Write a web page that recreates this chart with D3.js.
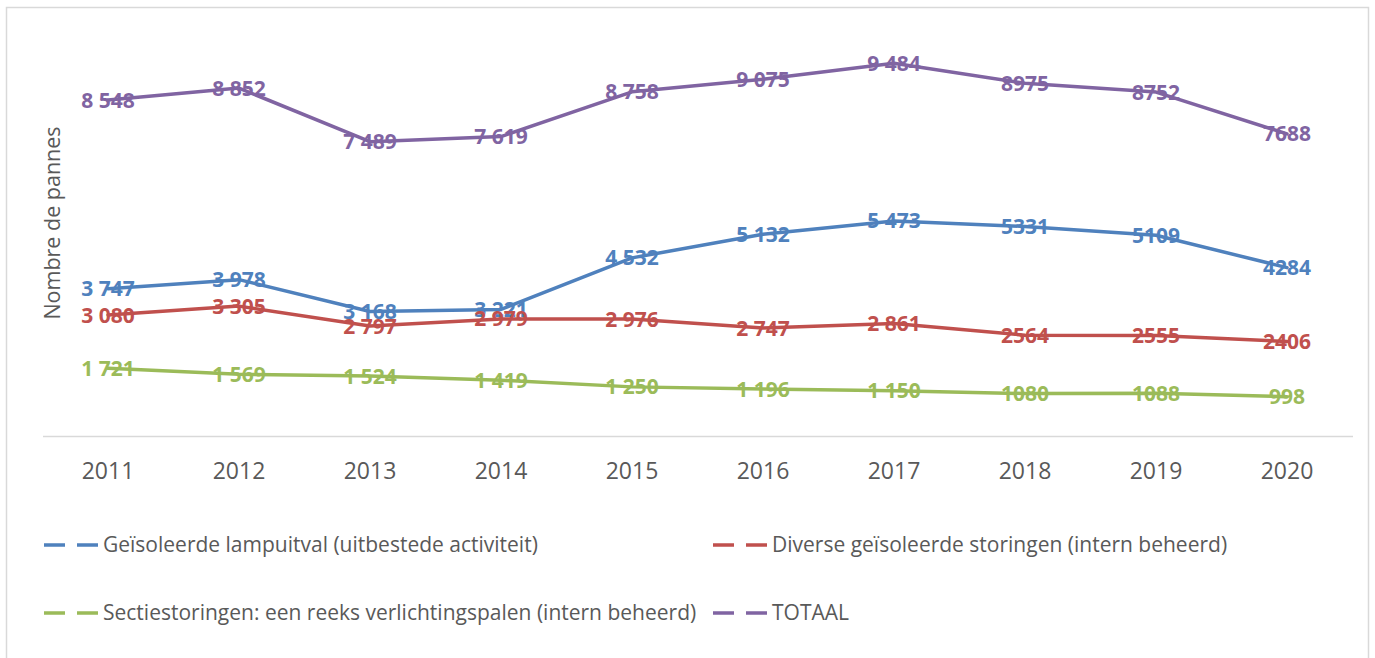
<!DOCTYPE html>
<html>
<head>
<meta charset="utf-8">
<script src="https://cdn.jsdelivr.net/npm/d3@7"></script>
<style>
  body { margin: 0; background: #fff; }
  text { font-family: "Open Sans", sans-serif; }
</style>
</head>
<body>
<div id="chartArea"></div>
<script>
const years = [2011, 2012, 2013, 2014, 2015, 2016, 2017, 2018, 2019, 2020];
const lampuitval = [3747, 3978, 3168, 3221, 4532, 5132, 5473, 5331, 5109, 4284];
const diverse = [3080, 3305, 2797, 2979, 2976, 2747, 2861, 2564, 2555, 2406];
const sectie = [1721, 1569, 1524, 1419, 1250, 1196, 1150, 1080, 1088, 998];
const totaal = [8548, 8852, 7489, 7619, 8758, 9075, 9484, 8975, 8752, 7688];
const seriesNames = [
    "Geïsoleerde lampuitval (uitbestede activiteit)",
    "Diverse geïsoleerde storingen (intern beheerd)",
    "Sectiestoringen: een reeks verlichtingspalen (intern beheerd)",
    "TOTAAL"
];
// labels up to this year carry a space as thousands separator
const lastGroupedYear = 2017;

const colors = ["#4f81bd", "#c0504d", "#9bbb59", "#8064a2"];
const w = 1375;
const h = 658;
const plot = {left: 42.5, right: 1352.5, top: 43, bottom: 436};

const svg = d3.select("#chartArea")
    .append("svg")
    .attr("width", w)
    .attr("height", h);

svg.append("rect")
    .attr("x", 6.5)
    .attr("y", 7.5)
    .attr("width", 1362)
    .attr("height", 700)
    .style("fill", "#fff")
    .style("stroke", "#d9d9d9")
    .style("stroke-width", 1.5);

const series = [lampuitval, diverse, sectie, totaal].map((vals, i) => ({
    name: seriesNames[i],
    color: colors[i],
    values: vals.map((v, j) => ({year: years[j], value: v}))
}));

const x = d3.scaleBand()
    .domain(years)
    .range([plot.left, plot.right]);

const y = d3.scaleLinear()
    .domain([0, 10000])
    .range([plot.bottom, plot.top]);

const nl = d3.formatLocale({decimal: ",", thousands: " ", grouping: [3], currency: ["", ""]});
const fmtGrouped = nl.format(",d");
const fmtLabel = d => d.year <= lastGroupedYear ? fmtGrouped(d.value) : String(d.value);

const xAxis = d3.axisBottom(x)
    .tickSize(0)
    .tickPadding(0);

const gx = svg.append("g")
    .attr("transform", `translate(0,${plot.bottom})`)
    .call(xAxis);
gx.select(".domain")
    .attr("stroke", "#d9d9d9")
    .attr("stroke-width", 1.5);
gx.selectAll("text")
    .attr("y", 35)
    .attr("dy", "0.35em")
    .attr("fill", "#595959")
    .style("font-size", "23px")
    .style("font-family", "Open Sans");

svg.append("text")
    .attr("transform", "translate(52,223) rotate(-90)")
    .attr("text-anchor", "middle")
    .attr("dy", "0.35em")
    .attr("fill", "#595959")
    .style("font-size", "21.5px")
    .text("Nombre de pannes");

const line = d3.line()
    .x(d => x(d.year) + x.bandwidth() / 2)
    .y(d => y(d.value));

svg.selectAll(".series-line")
    .data(series)
    .enter()
    .append("path")
    .attr("class", "series-line")
    .attr("d", d => line(d.values))
    .attr("fill", "none")
    .attr("stroke", d => d.color)
    .attr("stroke-width", 3.5)
    .attr("stroke-linejoin", "round")
    .attr("stroke-linecap", "round");

series.forEach(s => {
    svg.append("g")
        .selectAll("text")
        .data(s.values)
        .enter()
        .append("text")
        .attr("x", d => x(d.year) + x.bandwidth() / 2)
        .attr("y", d => y(d.value))
        .attr("dy", "0.36em")
        .attr("text-anchor", "middle")
        .attr("fill", s.color)
        .style("font-size", "21px")
        .style("font-weight", "bold")
        .text(fmtLabel);
});

// legend, 2 columns x 2 rows
const legendCols = [44, 713];
const legendRows = [545, 613];
const legend = svg.selectAll(".legend")
    .data(series)
    .enter()
    .append("g")
    .attr("class", "legend")
    .attr("transform", (d, i) => `translate(${legendCols[i % 2]},${legendRows[Math.floor(i / 2)]})`);

legend.append("line")
    .attr("x1", 0)
    .attr("x2", 55)
    .attr("y1", 0)
    .attr("y2", 0)
    .attr("stroke", d => d.color)
    .attr("stroke-width", 3.5)
    .attr("stroke-dasharray", "21 12");

legend.append("text")
    .attr("x", 59)
    .attr("dy", "0.35em")
    .attr("fill", "#595959")
    .style("font-size", "21px")
    .text(d => d.name);
</script>
</body>
</html>
